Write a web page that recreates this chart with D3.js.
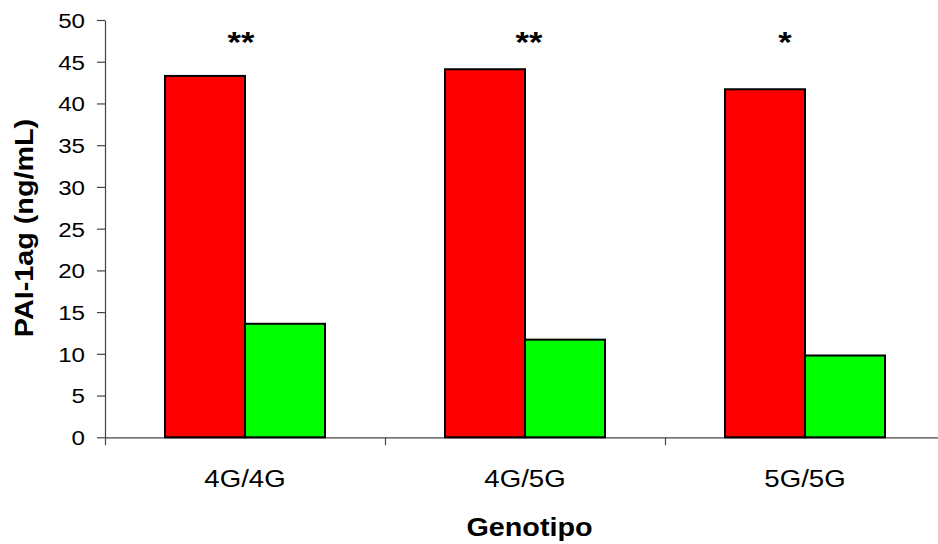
<!DOCTYPE html>
<html>
<head>
<meta charset="utf-8">
<script src="https://cdn.jsdelivr.net/npm/d3@7/dist/d3.min.js"></script>
<style>
  html, body { margin: 0; padding: 0; background: #fff; }
  svg { display: block; font-family: "Liberation Sans", Arial, sans-serif; }
</style>
</head>
<body>
<svg id="chart" width="938" height="544"></svg>
<script>
// Genotype groups and PAI-1 antigen levels (ng/mL) for the two series
const genotypes = ["4G/4G", "4G/5G", "5G/5G"];
const seriesRed = [43.3, 44.1, 41.7];
const seriesGreen = [13.6, 11.7, 9.8];
const significance = ["**", "**", "*"];
const yTicks = [0, 5, 10, 15, 20, 25, 30, 35, 40, 45, 50];
const seriesColors = ["#ff0000", "#00ff00"];

const svg = d3.select("#chart");
const plotLeft = 105, plotRight = 945, plotTop = 20, plotBottom = 437.3;
const sx = 1.15; // horizontal text stretch

const x = d3.scaleBand().domain(genotypes).range([plotLeft, plotRight]).paddingInner(0).paddingOuter(0);
const x1 = d3.scaleBand().domain([0, 1]).range([0, x.bandwidth()]).paddingInner(0).paddingOuter(0.75);
const y = d3.scaleLinear().domain([0, 50]).range([plotBottom, plotTop]);

// y axis
const yAxis = svg.append("g")
  .attr("transform", `translate(${plotLeft},0)`)
  .call(d3.axisLeft(y).tickValues(yTicks).tickSize(8).tickPadding(6).tickSizeOuter(0));
yAxis.select(".domain").attr("stroke", "#444").attr("stroke-width", 1.2);
yAxis.selectAll(".tick line").attr("stroke", "#444").attr("stroke-width", 1.2);
yAxis.selectAll(".tick text")
  .attr("font-size", 21).attr("fill", "#000")
  .attr("font-family", "Liberation Sans, Arial, sans-serif")
  .attr("x", null).attr("dy", "0.35em")
  .attr("transform", `translate(-20,0) scale(${sx},1)`);

// x axis: ticks at category boundaries
const boundaries = genotypes.map(g => x(g)).concat([plotRight]);
const xAxisScale = d3.scaleLinear().domain([plotLeft, plotRight]).range([plotLeft, plotRight]);
const xAxis = svg.append("g")
  .attr("transform", `translate(0,${plotBottom})`)
  .call(d3.axisBottom(xAxisScale).tickValues(boundaries).tickSize(8).tickFormat("").tickSizeOuter(0));
xAxis.select(".domain").attr("stroke", "#444").attr("stroke-width", 1.2);
xAxis.selectAll(".tick line").attr("stroke", "#444").attr("stroke-width", 1.2);

// category labels
svg.append("g").selectAll("text")
  .data(genotypes)
  .join("text")
  .attr("transform", d => `translate(${x(d) + x.bandwidth() / 2},487) scale(${sx},1)`)
  .attr("text-anchor", "middle")
  .attr("font-size", 24)
  .text(d => d);

// bars
const groups = svg.append("g").selectAll("g")
  .data(genotypes)
  .join("g")
  .attr("transform", d => `translate(${x(d)},0)`);

groups.selectAll("rect")
  .data((d, i) => [seriesRed[i], seriesGreen[i]])
  .join("rect")
  .attr("x", (d, j) => x1(j))
  .attr("width", x1.bandwidth())
  .attr("y", d => y(d))
  .attr("height", d => y(0) - y(d))
  .attr("fill", (d, j) => seriesColors[j])
  .attr("stroke", "#000")
  .attr("stroke-width", 2);

// significance markers above each group
const starShift = [-4, 4, -20];
svg.append("g").selectAll("text")
  .data(significance)
  .join("text")
  .attr("transform", (d, i) => `translate(${x(genotypes[i]) + x.bandwidth() / 2 + starShift[i]},52) scale(${sx},1)`)
  .attr("text-anchor", "middle")
  .attr("font-size", 30)
  .attr("font-weight", "bold")
  .text(d => d);

// axis titles
svg.append("text")
  .attr("transform", `translate(${(plotLeft + 938) / 2 + 8},536) scale(${sx},1)`)
  .attr("text-anchor", "middle")
  .attr("font-size", 25)
  .attr("font-weight", "bold")
  .text("Genotipo");

svg.append("text")
  .attr("transform", `translate(33,228) rotate(-90) scale(${sx},1)`)
  .attr("text-anchor", "middle")
  .attr("font-size", 25)
  .attr("font-weight", "bold")
  .text("PAI-1ag (ng/mL)");
</script>
</body>
</html>
